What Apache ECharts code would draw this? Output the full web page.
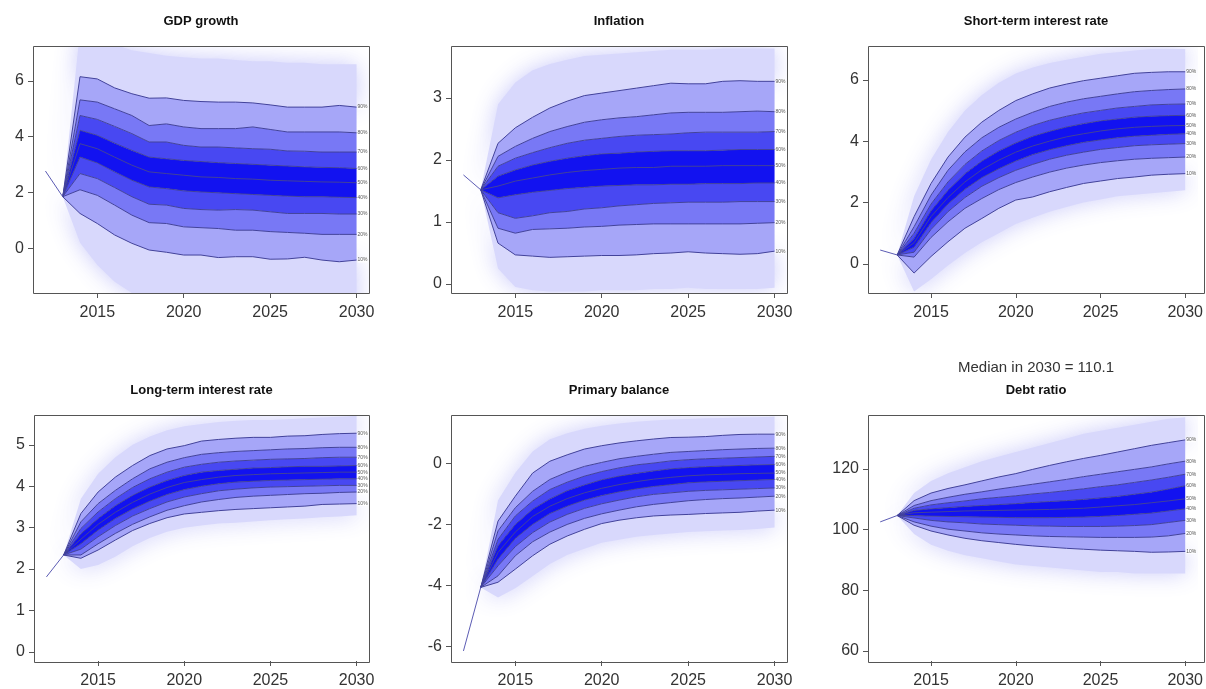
<!DOCTYPE html>
<html><head><meta charset="utf-8">
<script src="https://cdn.jsdelivr.net/npm/echarts@6/dist/echarts.min.js"></script>
<style>html,body{margin:0;padding:0;background:#fff}#c{width:1206px;height:689px}</style>
</head><body><div id="c"></div>
<script>
// ---------- data ----------
const years = [2013,2014,2015,2016,2017,2018,2019,2020,2021,2022,2023,2024,2025,2026,2027,2028,2029,2030];
const histYears = [2012, 2013];
const xTicks = [2015, 2020, 2025, 2030];
const lineKeys = ['p10','p20','p30','p40','p50','p60','p70','p80','p90'];
const lineLabels = ['10%','20%','30%','40%','50%','60%','70%','80%','90%'];

// GDP growth
const gdpHist = [2.77, 1.85];
const gdpP99 = [1.85,7.8,7.6,7.3,7.1,7.0,6.9,6.85,6.8,6.8,6.75,6.7,6.7,6.65,6.65,6.6,6.6,6.6];
const gdpP90 = [1.85,6.15,6.07,5.75,5.54,5.38,5.39,5.30,5.26,5.24,5.24,5.21,5.14,5.06,5.06,5.06,5.12,5.06];
const gdpP80 = [1.85,5.32,5.24,5.00,4.76,4.40,4.46,4.35,4.29,4.29,4.29,4.35,4.26,4.17,4.17,4.17,4.17,4.14];
const gdpP70 = [1.85,4.76,4.62,4.37,4.11,3.81,3.81,3.69,3.63,3.63,3.60,3.57,3.55,3.49,3.48,3.45,3.45,3.45];
const gdpP60 = [1.85,4.23,4.05,3.77,3.51,3.27,3.21,3.15,3.11,3.07,3.04,3.01,2.98,2.95,2.92,2.90,2.89,2.86];
const gdpP50 = [1.85,3.75,3.57,3.27,2.98,2.74,2.68,2.62,2.56,2.54,2.50,2.48,2.44,2.42,2.40,2.38,2.37,2.35];
const gdpP40 = [1.85,3.27,3.06,2.74,2.44,2.20,2.14,2.06,2.02,1.99,1.96,1.93,1.90,1.87,1.85,1.85,1.83,1.82];
const gdpP30 = [1.85,2.68,2.50,2.18,1.85,1.58,1.55,1.43,1.39,1.37,1.39,1.37,1.31,1.25,1.25,1.25,1.23,1.23];
const gdpP20 = [1.85,2.10,1.90,1.55,1.19,0.92,0.89,0.77,0.74,0.71,0.65,0.65,0.60,0.57,0.54,0.50,0.50,0.50];
const gdpP10 = [1.85,1.25,0.89,0.48,0.18,-0.06,-0.14,-0.24,-0.24,-0.33,-0.30,-0.30,-0.39,-0.38,-0.32,-0.42,-0.48,-0.42];
const gdpP1  = [1.85,0.2,-0.6,-1.2,-1.6,-1.9,-2.0,-2.1,-2.1,-2.2,-2.2,-2.2,-2.3,-2.3,-2.3,-2.3,-2.4,-2.4];

// Inflation
const infHist = [1.76, 1.52];
const infP99 = [1.52,2.9,3.25,3.45,3.55,3.62,3.68,3.7,3.72,3.74,3.76,3.78,3.78,3.78,3.8,3.8,3.8,3.8];
const infP90 = [1.52,2.27,2.52,2.69,2.84,2.95,3.04,3.08,3.12,3.16,3.20,3.24,3.23,3.23,3.27,3.28,3.27,3.27];
const infP80 = [1.52,2.06,2.22,2.35,2.46,2.54,2.61,2.65,2.68,2.70,2.73,2.76,2.77,2.77,2.77,2.78,2.79,2.78];
const infP70 = [1.52,1.90,2.03,2.12,2.20,2.27,2.32,2.35,2.38,2.40,2.41,2.42,2.44,2.45,2.45,2.45,2.45,2.46];
const infP60 = [1.52,1.74,1.84,1.92,1.98,2.03,2.07,2.10,2.11,2.13,2.14,2.15,2.15,2.15,2.16,2.17,2.17,2.17];
const infP50 = [1.52,1.58,1.66,1.71,1.76,1.80,1.83,1.85,1.87,1.88,1.88,1.90,1.90,1.90,1.91,1.91,1.91,1.91];
const infP40 = [1.52,1.39,1.44,1.48,1.51,1.54,1.56,1.58,1.59,1.60,1.60,1.61,1.61,1.62,1.62,1.62,1.63,1.63];
const infP30 = [1.52,1.15,1.06,1.10,1.15,1.17,1.21,1.23,1.26,1.28,1.30,1.31,1.32,1.32,1.32,1.33,1.33,1.33];
const infP20 = [1.52,0.90,0.82,0.88,0.89,0.90,0.92,0.93,0.95,0.96,0.97,0.97,0.97,0.97,0.97,0.97,0.98,0.99];
const infP10 = [1.52,0.66,0.47,0.45,0.43,0.44,0.45,0.46,0.46,0.47,0.49,0.50,0.52,0.50,0.49,0.48,0.49,0.53];
const infP1  = [1.52,0.25,-0.05,-0.1,-0.12,-0.12,-0.12,-0.1,-0.1,-0.1,-0.08,-0.08,-0.06,-0.08,-0.08,-0.08,-0.08,-0.06];

// Short-term interest rate
const stHist = [0.45, 0.29];
const stP99 = [0.29,2.2,3.4,4.3,5.0,5.5,5.9,6.2,6.4,6.55,6.65,6.75,6.85,6.9,6.95,7.0,7.0,7.0];
const stP90 = [0.29,1.54,2.62,3.48,4.13,4.62,5.00,5.32,5.54,5.73,5.86,5.97,6.05,6.13,6.21,6.24,6.26,6.26];
const stP80 = [0.29,1.21,2.24,3.05,3.65,4.11,4.45,4.72,4.94,5.13,5.27,5.38,5.46,5.54,5.61,5.65,5.68,5.70];
const stP70 = [0.29,1.00,1.95,2.67,3.24,3.68,4.02,4.29,4.51,4.68,4.81,4.92,5.00,5.08,5.13,5.18,5.20,5.21];
const stP60 = [0.29,0.83,1.73,2.40,2.94,3.35,3.68,3.94,4.16,4.32,4.46,4.57,4.66,4.72,4.78,4.81,4.83,4.84];
const stP50 = [0.29,0.69,1.54,2.16,2.67,3.07,3.38,3.64,3.84,4.00,4.14,4.24,4.33,4.40,4.45,4.48,4.50,4.51];
const stP40 = [0.29,0.54,1.34,1.95,2.43,2.81,3.10,3.35,3.56,3.72,3.85,3.96,4.04,4.11,4.16,4.19,4.22,4.24];
const stP30 = [0.29,0.38,1.12,1.70,2.16,2.53,2.81,3.05,3.24,3.41,3.54,3.64,3.73,3.79,3.85,3.88,3.90,3.92];
const stP20 = [0.29,0.22,0.86,1.37,1.81,2.13,2.42,2.65,2.83,2.99,3.12,3.22,3.30,3.36,3.41,3.44,3.46,3.48];
const stP10 = [0.29,-0.30,0.24,0.72,1.16,1.48,1.81,2.08,2.18,2.35,2.49,2.62,2.70,2.78,2.83,2.89,2.92,2.94];
const stP1  = [0.29,-0.9,-0.5,-0.05,0.35,0.7,1.0,1.3,1.5,1.7,1.85,2.0,2.1,2.2,2.25,2.3,2.35,2.4];

// Long-term interest rate
const ltHist = [1.81, 2.34];
const ltP99 = [2.34,3.7,4.3,4.7,5.0,5.2,5.35,5.45,5.5,5.55,5.58,5.6,5.6,5.62,5.64,5.66,5.68,5.7];
const ltP90 = [2.34,3.34,3.86,4.22,4.50,4.74,4.90,4.98,5.09,5.13,5.16,5.18,5.18,5.21,5.22,5.25,5.27,5.28];
const ltP80 = [2.34,3.14,3.58,3.90,4.18,4.42,4.58,4.69,4.77,4.81,4.84,4.86,4.88,4.90,4.91,4.93,4.94,4.94];
const ltP70 = [2.34,2.98,3.38,3.70,3.97,4.18,4.34,4.46,4.53,4.58,4.61,4.63,4.65,4.66,4.67,4.69,4.70,4.70];
const ltP60 = [2.34,2.85,3.22,3.53,3.78,3.98,4.14,4.26,4.34,4.38,4.41,4.44,4.45,4.47,4.48,4.48,4.49,4.50];
const ltP50 = [2.34,2.72,3.08,3.37,3.61,3.81,3.97,4.09,4.16,4.22,4.26,4.28,4.30,4.31,4.32,4.33,4.34,4.34];
const ltP40 = [2.34,2.61,2.94,3.22,3.45,3.64,3.80,3.92,4.00,4.06,4.10,4.12,4.14,4.15,4.16,4.17,4.18,4.18];
const ltP30 = [2.34,2.48,2.78,3.05,3.28,3.46,3.62,3.74,3.82,3.89,3.93,3.96,3.98,3.99,4.00,4.01,4.02,4.02];
const ltP20 = [2.34,2.34,2.61,2.86,3.08,3.26,3.42,3.53,3.62,3.68,3.73,3.76,3.78,3.80,3.82,3.83,3.85,3.86];
const ltP10 = [2.34,2.26,2.46,2.70,2.93,3.10,3.24,3.33,3.37,3.41,3.44,3.46,3.48,3.50,3.52,3.56,3.57,3.58];
const ltP1  = [2.34,2.0,2.1,2.3,2.55,2.75,2.9,3.0,3.05,3.1,3.12,3.15,3.18,3.2,3.22,3.25,3.27,3.3];

// Primary balance
const pbHist = [-6.16, -4.07];
const pbP99 = [-4.07,-1.2,-0.3,0.4,0.8,1.0,1.15,1.25,1.32,1.38,1.42,1.45,1.47,1.49,1.5,1.52,1.53,1.55];
const pbP90 = [-4.07,-1.89,-1.07,-0.31,0.08,0.29,0.48,0.59,0.68,0.75,0.81,0.86,0.87,0.89,0.93,0.96,0.97,0.97];
const pbP80 = [-4.07,-2.21,-1.45,-0.91,-0.52,-0.28,-0.09,0.04,0.16,0.24,0.31,0.37,0.40,0.43,0.46,0.48,0.50,0.51];
const pbP70 = [-4.07,-2.49,-1.72,-1.23,-0.85,-0.61,-0.41,-0.26,-0.14,-0.04,0.02,0.09,0.13,0.16,0.18,0.20,0.22,0.24];
const pbP60 = [-4.07,-2.70,-2.00,-1.50,-1.16,-0.89,-0.70,-0.53,-0.41,-0.32,-0.24,-0.17,-0.13,-0.10,-0.08,-0.06,-0.04,-0.03];
const pbP50 = [-4.07,-2.92,-2.25,-1.74,-1.40,-1.15,-0.96,-0.81,-0.69,-0.59,-0.51,-0.45,-0.40,-0.37,-0.35,-0.33,-0.32,-0.31];
const pbP40 = [-4.07,-3.14,-2.46,-2.00,-1.64,-1.40,-1.20,-1.05,-0.93,-0.83,-0.75,-0.69,-0.63,-0.60,-0.58,-0.56,-0.54,-0.52];
const pbP30 = [-4.07,-3.36,-2.73,-2.27,-1.92,-1.67,-1.47,-1.32,-1.20,-1.09,-1.01,-0.96,-0.91,-0.88,-0.86,-0.84,-0.82,-0.80];
const pbP20 = [-4.07,-3.69,-3.03,-2.57,-2.25,-2.00,-1.80,-1.65,-1.53,-1.42,-1.34,-1.28,-1.22,-1.18,-1.15,-1.13,-1.10,-1.07];
const pbP10 = [-4.07,-3.90,-3.47,-3.03,-2.65,-2.38,-2.16,-1.97,-1.86,-1.78,-1.72,-1.69,-1.67,-1.64,-1.62,-1.60,-1.56,-1.53];
const pbP1  = [-4.07,-4.4,-4.1,-3.7,-3.3,-3.0,-2.8,-2.6,-2.5,-2.4,-2.35,-2.3,-2.25,-2.22,-2.2,-2.18,-2.15,-2.1];

// Debt ratio
const drHist = [102.5, 104.6];
const drP99 = [104.6,112,116,118.5,120.5,122.5,124,125.5,127,128.5,130,131.5,132.5,133.5,134.5,135.5,136.5,137];
const drP90 = [104.6,109.5,112.0,113.5,114.7,116.0,117.3,118.4,119.8,121.1,122.3,123.4,124.4,125.5,126.6,127.7,128.6,129.5];
const drP80 = [104.6,107.9,109.5,110.6,111.6,112.4,113.3,114.1,114.9,115.7,116.5,117.4,118.2,119.0,119.8,120.6,121.6,122.5];
const drP70 = [104.6,107.0,108.1,108.8,109.4,110.1,110.6,111.1,111.7,112.2,112.8,113.4,114.1,114.7,115.5,116.3,117.2,118.2];
const drP60 = [104.6,106.3,106.8,107.2,107.6,107.9,108.2,108.5,108.9,109.2,109.5,109.9,110.4,110.9,111.6,112.3,113.3,114.4];
const drP50 = [104.6,105.5,105.7,105.9,106.1,106.2,106.3,106.4,106.5,106.6,106.8,107.0,107.4,107.8,108.2,108.8,109.4,110.1];
const drP40 = [104.6,104.6,104.4,104.3,104.2,104.1,104.0,103.9,103.9,103.9,104.0,104.1,104.3,104.6,105.0,105.4,106.1,106.8];
const drP30 = [104.6,103.8,103.0,102.5,102.2,101.8,101.6,101.4,101.2,101.1,101.0,101.0,101.0,101.1,101.3,101.6,102.3,103.0];
const drP20 = [104.6,102.5,101.1,100.1,99.5,98.9,98.5,98.2,97.9,97.7,97.6,97.5,97.4,97.4,97.4,97.5,97.9,98.7];
const drP10 = [104.6,101.4,99.5,98.2,97.1,96.3,95.7,95.1,94.6,94.2,93.8,93.5,93.2,93.0,92.8,92.5,92.6,92.8];
const drP1  = [104.6,98.5,95,93,91.5,90.5,89.5,88.5,88,87.5,87,86.5,86,86,85.5,85.5,85.5,85.5];

const titles = ['GDP growth','Inflation','Short-term interest rate','Long-term interest rate','Primary balance','Debt ratio'];
const yTicks = [[0,2,4,6],[0,1,2,3],[0,2,4,6],[0,1,2,3,4,5],[-6,-4,-2,0],[60,80,100,120]];
const yRanges = [[-1.6,7.25],[-0.145,3.84],[-0.95,7.1],[-0.22,5.72],[-6.49,1.6],[56.7,137.7]];
const xRange = [2011.28, 2030.72];
const medianNote = 'Median in 2030 = 110.1';

// ---------- build ----------
const YEAR_MS = 365.25 * 86400000;
const T0 = Date.UTC(2000, 0, 1);
const toT = y => T0 + (y - 2000) * YEAR_MS;   // linear year -> time, for the (hidden) time axis
const panels = [
  {hist:gdpHist, q:{p1:gdpP1,p10:gdpP10,p20:gdpP20,p30:gdpP30,p40:gdpP40,p50:gdpP50,p60:gdpP60,p70:gdpP70,p80:gdpP80,p90:gdpP90,p99:gdpP99}},
  {hist:infHist, q:{p1:infP1,p10:infP10,p20:infP20,p30:infP30,p40:infP40,p50:infP50,p60:infP60,p70:infP70,p80:infP80,p90:infP90,p99:infP99}},
  {hist:stHist,  q:{p1:stP1,p10:stP10,p20:stP20,p30:stP30,p40:stP40,p50:stP50,p60:stP60,p70:stP70,p80:stP80,p90:stP90,p99:stP99}},
  {hist:ltHist,  q:{p1:ltP1,p10:ltP10,p20:ltP20,p30:ltP30,p40:ltP40,p50:ltP50,p60:ltP60,p70:ltP70,p80:ltP80,p90:ltP90,p99:ltP99}},
  {hist:pbHist,  q:{p1:pbP1,p10:pbP10,p20:pbP20,p30:pbP30,p40:pbP40,p50:pbP50,p60:pbP60,p70:pbP70,p80:pbP80,p90:pbP90,p99:pbP99}},
  {hist:drHist,  q:{p1:drP1,p10:drP10,p20:drP20,p30:drP30,p40:drP40,p50:drP50,p60:drP60,p70:drP70,p80:drP80,p90:drP90,p99:drP99}}
];
const grids = [
  {left:33, top:46, width:336, height:247},
  {left:451, top:46, width:336, height:247},
  {left:868, top:46, width:336, height:247},
  {left:34, top:415, width:335, height:247},
  {left:451, top:415, width:336, height:247},
  {left:868, top:415, width:336, height:247}
];
const C_OUT = '#d8d8fc', C_2 = '#a6a6f8', C_3 = '#7878f5', C_4 = '#4848f2', C_MID = '#1212f0';
// stacked bands: [lower, upper, colour, isOuter]
const bands = [['p1','p10',C_OUT,1],['p10','p20',C_2,0],['p20','p30',C_3,0],['p30','p40',C_4,0],['p40','p60',C_MID,0],
               ['p60','p70',C_4,0],['p70','p80',C_3,0],['p80','p90',C_2,0],['p90','p99',C_OUT,1]];
const FONT = 'Liberation Sans, Arial, sans-serif';

const xAxes = [], yAxes = [], series = [], graphics = [];
panels.forEach((p, i) => {
  const g = grids[i];
  const xi = 2 * i;          // hidden time axis used by the series (so stacking acts on y)
  xAxes.push({gridIndex:i, type:'time', show:false, min:toT(xRange[0]), max:toT(xRange[1]), position:'bottom'});
  xAxes.push({
    gridIndex:i, type:'value', min:xRange[0], max:xRange[1], z:10, position:'bottom', offset:0,
    axisLine:{show:false, onZero:false}, splitLine:{show:false},
    axisTick:{show:true, customValues:xTicks, length:5, inside:false, lineStyle:{color:'#555'}},
    axisLabel:{show:true, customValues:xTicks, formatter:v=>String(v), color:'#333', fontSize:16, fontFamily:FONT, margin:12}
  });
  yAxes.push({
    gridIndex:i, type:'value', min:yRanges[i][0], max:yRanges[i][1], z:10, position:'left',
    axisLine:{show:false, onZero:false}, splitLine:{show:false},
    axisTick:{show:true, customValues:yTicks[i], length:5, inside:false, lineStyle:{color:'#555'}},
    axisLabel:{show:true, customValues:yTicks[i], formatter:v=>String(v), color:'#333', fontSize:16, fontFamily:FONT, margin:9}
  });
  const stackId = 'fan' + i;
  series.push({
    type:'line', xAxisIndex:xi, yAxisIndex:i, silent:true, symbol:'none', z:1,
    stack:stackId, stackStrategy:'all',
    data: years.map((y, j) => [toT(y), p.q.p1[j]]),
    lineStyle:{width:0, opacity:0}
  });
  bands.forEach(([lo, hi, col, outer]) => {
    series.push({
      type:'line', xAxisIndex:xi, yAxisIndex:i, silent:true, symbol:'none', z: outer ? 1 : 2,
      stack:stackId, stackStrategy:'all',
      data: years.map((y, j) => [toT(y), p.q[hi][j] - p.q[lo][j]]),
      lineStyle:{width:0, opacity:0},
      areaStyle: outer ? {color:col, opacity:1, shadowBlur:22, shadowColor:'rgba(196,196,250,0.9)'} : {color:col, opacity:1}
    });
  });
  lineKeys.forEach((k, li) => {
    series.push({
      type:'line', xAxisIndex:xi, yAxisIndex:i, silent:true, symbol:'none', z:5,
      data: years.map((y, j) => [toT(y), p.q[k][j]]),
      lineStyle:{width:1, color:'#42429a'},
      endLabel:{show:true, formatter:lineLabels[li], fontSize:5, color:'#555', distance:1, fontFamily:FONT, backgroundColor:'rgba(255,255,255,0.85)', padding:[0,0]}
    });
  });
  series.push({
    type:'line', xAxisIndex:xi, yAxisIndex:i, silent:true, symbol:'none', z:6,
    data: histYears.map((y, j) => [toT(y), p.hist[j]]),
    lineStyle:{width:1, color:'#5c5cb4'}
  });
  graphics.push({type:'rect', silent:true, z:100,
    shape:{x:g.left+0.5, y:g.top+0.5, width:g.width, height:g.height},
    style:{fill:null, stroke:'#555', lineWidth:1}});
  graphics.push({type:'text', silent:true, z:100,
    x:g.left + g.width/2, y: g.top - 25,
    style:{text:titles[i], font:'bold 13px ' + FONT, fill:'#111', align:'center', verticalAlign:'middle'}});
});
graphics.push({type:'text', silent:true, z:100, x:grids[5].left + grids[5].width/2, y: grids[5].top - 47,
  style:{text:medianNote, font:'15px ' + FONT, fill:'#333', align:'center', verticalAlign:'middle'}});

const chart = echarts.init(document.getElementById('c'), null, {renderer:'canvas'});
chart.setOption({
  animation:false,
  backgroundColor:'#ffffff',
  grid: grids.map(g => Object.assign({containLabel:false}, g)),
  xAxis: xAxes, yAxis: yAxes, series: series, graphic: graphics
});
</script></body></html>
